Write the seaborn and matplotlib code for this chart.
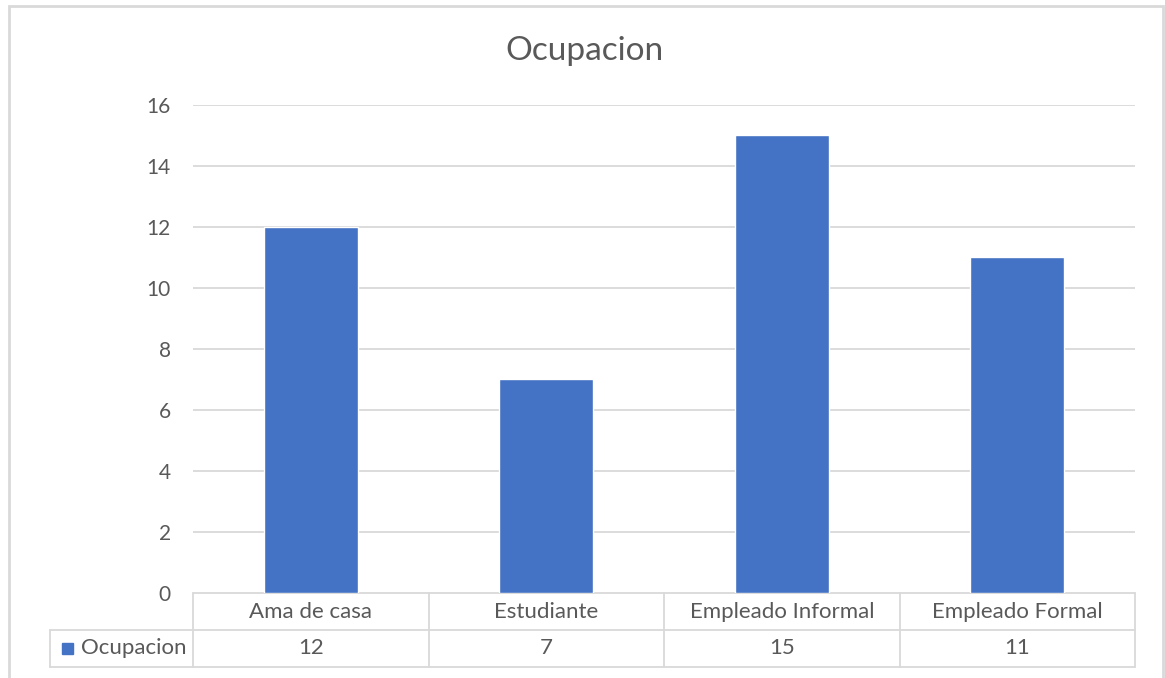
import matplotlib
matplotlib.use("Agg")
import matplotlib.pyplot as plt
import matplotlib.transforms as mtransforms
from matplotlib.patches import Rectangle
import seaborn as sns
import pandas as pd

categories = ["Ama de casa", "Estudiante", "Empleado Informal", "Empleado Formal"]
values = [12, 7, 15, 11]
series_name = "Ocupacion"
title = "Ocupacion"
yticks = [0, 2, 4, 6, 8, 10, 12, 14, 16]

BAR = "#4472C4"
TXT = "#595959"
GRID = "#D9D9D9"

sns.set_style("white")
plt.rcParams["font.family"] = ["Lato", "DejaVu Sans"]

W, H = 1165, 678
fig = plt.figure(figsize=(W / 100, H / 100), dpi=100)
ax = fig.add_axes([193 / W, 1 - 593 / H, (1135 - 193) / W, (593 - 105) / H])

df = pd.DataFrame({"cat": categories, "val": values})
sns.barplot(data=df, x="cat", y="val", color=BAR, saturation=1, width=0.4, ax=ax, zorder=3)

ax.set_xlim(-0.5, len(categories) - 0.5)
ax.set_ylim(0, 16)
ax.set_yticks(yticks)
ax.set_yticklabels([str(t) for t in yticks])
for t in yticks[1:]:
    ax.axhline(t, color=GRID, lw=1.3, zorder=1)
ax.set_xticks([])
ax.set_xlabel("")
ax.set_ylabel("")
for s in ax.spines.values():
    s.set_visible(False)
ax.tick_params(axis="y", length=0, pad=16, labelsize=15, labelcolor=TXT)

fig.text(0.502, 1 - 51 / H, title, ha="center", va="center", fontsize=24, color=TXT)

# data table below the axis
tr = mtransforms.blended_transform_factory(ax.transData, ax.transAxes)
row_h = 37 / (593 - 105)
n = len(categories)
left_x = -0.5 - 143 / 235.5
edges = [i - 0.5 for i in range(n + 1)]
lw = 1.3
fs = 16
kw = dict(color=GRID, lw=lw, transform=tr, clip_on=False, zorder=2)
ax.plot([edges[0], edges[-1]], [0, 0], **kw)
ax.plot([left_x, edges[-1]], [-row_h, -row_h], **kw)
ax.plot([left_x, edges[-1]], [-2 * row_h, -2 * row_h], **kw)
ax.plot([left_x, left_x], [-row_h, -2 * row_h], **kw)
for e in edges:
    ax.plot([e, e], [0, -2 * row_h], **kw)
for i, (c, v) in enumerate(zip(categories, values)):
    ax.text(i, -0.5 * row_h, c, transform=tr, ha="center", va="center",
            fontsize=fs, color=TXT, clip_on=False)
    ax.text(i, -1.5 * row_h, str(v), transform=tr, ha="center", va="center",
            fontsize=fs, color=TXT, clip_on=False)
# legend key
key_w = 11 / 235.5
ax.add_patch(Rectangle((left_x + 12 / 235.5, -1.5 * row_h - 5.5 / 488), key_w, 11 / 488,
                       transform=tr, color=BAR, clip_on=False))
ax.text(left_x + 31 / 235.5, -1.5 * row_h, series_name, transform=tr, ha="left", va="center",
        fontsize=fs, color=TXT, clip_on=False)

# chart border
fig.patches.append(Rectangle((9 / W, -0.05), (1163 - 9) / W, 1.05 - 6 / H, transform=fig.transFigure,
                             fill=False, edgecolor=GRID, lw=2))

fig.savefig("out.png", dpi=100)
